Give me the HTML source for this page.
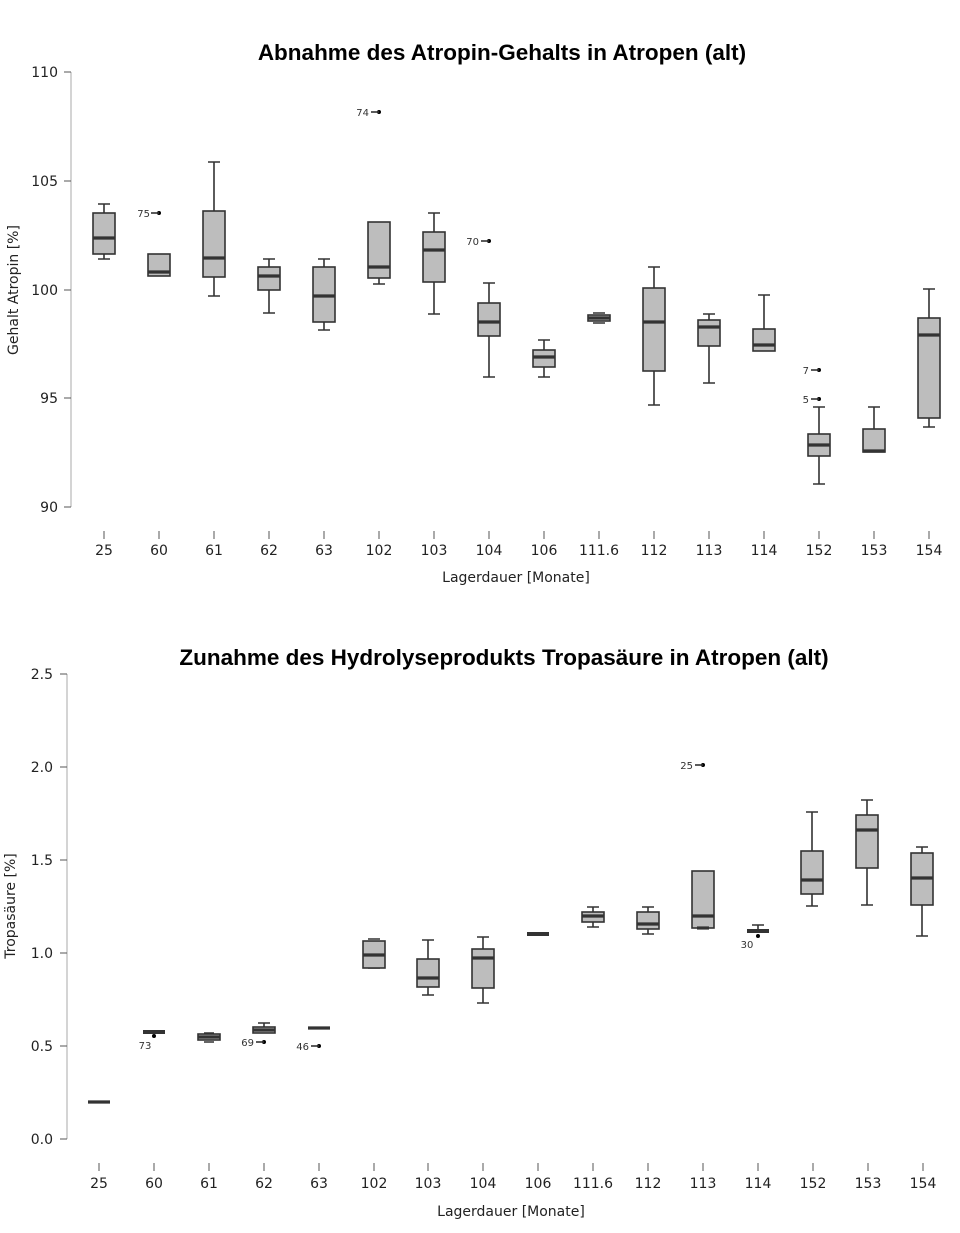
<!DOCTYPE html>
<html><head><meta charset="utf-8"><style>
body{margin:0;background:#fff}
svg{display:block}
text{font-family:"DejaVu Sans","Liberation Sans",sans-serif;fill:#222}
.t{font-family:"Liberation Sans",sans-serif;font-weight:bold;font-size:22.5px;fill:#000}
.b{fill:#bdbdbd;stroke:#333;stroke-width:1.6}
.w{stroke:#333;stroke-width:1.6;fill:none}
.m{stroke:#333;stroke-width:3.2}
.ax{stroke:#aaa;stroke-width:1}
.tk{stroke:#555;stroke-width:1}
.lab{font-size:14px}
.o{font-size:10px;fill:#333}
</style></head><body>
<svg width="960" height="1233" viewBox="0 0 960 1233">
<text class="t" x="502" y="60" text-anchor="middle">Abnahme des Atropin-Gehalts in Atropen (alt)</text>
<line class="ax" x1="71" y1="72" x2="71" y2="507"/>
<g class="tk"><line x1="64" y1="72" x2="71" y2="72"/><line x1="64" y1="181" x2="71" y2="181"/><line x1="64" y1="290" x2="71" y2="290"/><line x1="64" y1="398" x2="71" y2="398"/><line x1="64" y1="507" x2="71" y2="507"/></g>
<g class="lab" text-anchor="end"><text x="58" y="77">110</text><text x="58" y="186">105</text><text x="58" y="295">100</text><text x="58" y="403">95</text><text x="58" y="512">90</text></g>
<text class="lab" transform="translate(18,290) rotate(-90)" text-anchor="middle" font-size="13">Gehalt Atropin [%]</text>
<g class="tk"><line x1="104" y1="531" x2="104" y2="539"/><line x1="159" y1="531" x2="159" y2="539"/><line x1="214" y1="531" x2="214" y2="539"/><line x1="269" y1="531" x2="269" y2="539"/><line x1="324" y1="531" x2="324" y2="539"/><line x1="379" y1="531" x2="379" y2="539"/><line x1="434" y1="531" x2="434" y2="539"/><line x1="489" y1="531" x2="489" y2="539"/><line x1="544" y1="531" x2="544" y2="539"/><line x1="599" y1="531" x2="599" y2="539"/><line x1="654" y1="531" x2="654" y2="539"/><line x1="709" y1="531" x2="709" y2="539"/><line x1="764" y1="531" x2="764" y2="539"/><line x1="819" y1="531" x2="819" y2="539"/><line x1="874" y1="531" x2="874" y2="539"/><line x1="929" y1="531" x2="929" y2="539"/></g>
<g class="lab" text-anchor="middle"><text x="104" y="555">25</text><text x="159" y="555">60</text><text x="214" y="555">61</text><text x="269" y="555">62</text><text x="324" y="555">63</text><text x="379" y="555">102</text><text x="434" y="555">103</text><text x="489" y="555">104</text><text x="544" y="555">106</text><text x="599" y="555">111.6</text><text x="654" y="555">112</text><text x="709" y="555">113</text><text x="764" y="555">114</text><text x="819" y="555">152</text><text x="874" y="555">153</text><text x="929" y="555">154</text></g>
<text class="lab" x="516" y="582" text-anchor="middle">Lagerdauer [Monate]</text>
<g>
<path class="w" d="M104 204V213M104 254V259M98 204H110M98 259H110"/><rect class="b" x="93" y="213" width="22" height="41"/><line class="m" x1="93" y1="238" x2="115" y2="238"/>
<rect class="b" x="148" y="254" width="22" height="22"/><line class="m" x1="148" y1="272" x2="170" y2="272"/><circle cx="159" cy="213" r="2"/><line class="w" x1="151" y1="213" x2="159" y2="213"/><text class="o" x="150" y="217" text-anchor="end">75</text>
<path class="w" d="M214 162V211M214 277V296M208 162H220M208 296H220"/><rect class="b" x="203" y="211" width="22" height="66"/><line class="m" x1="203" y1="258" x2="225" y2="258"/>
<path class="w" d="M269 259V267M269 290V313M263 259H275M263 313H275"/><rect class="b" x="258" y="267" width="22" height="23"/><line class="m" x1="258" y1="276" x2="280" y2="276"/>
<path class="w" d="M324 259V267M324 322V330M318 259H330M318 330H330"/><rect class="b" x="313" y="267" width="22" height="55"/><line class="m" x1="313" y1="296" x2="335" y2="296"/>
<path class="w" d="M379 278V284M373 284H385"/><rect class="b" x="368" y="222" width="22" height="56"/><line class="m" x1="368" y1="267" x2="390" y2="267"/><circle cx="379" cy="112" r="2"/><line class="w" x1="371" y1="112" x2="379" y2="112"/><text class="o" x="369" y="116" text-anchor="end">74</text>
<path class="w" d="M434 213V232M434 282V314M428 213H440M428 314H440"/><rect class="b" x="423" y="232" width="22" height="50"/><line class="m" x1="423" y1="250" x2="445" y2="250"/>
<path class="w" d="M489 283V303M489 336V377M483 283H495M483 377H495"/><rect class="b" x="478" y="303" width="22" height="33"/><line class="m" x1="478" y1="322" x2="500" y2="322"/><circle cx="489" cy="241" r="2"/><line class="w" x1="481" y1="241" x2="489" y2="241"/><text class="o" x="479" y="245" text-anchor="end">70</text>
<path class="w" d="M544 340V350M544 367V377M538 340H550M538 377H550"/><rect class="b" x="533" y="350" width="22" height="17"/><line class="m" x1="533" y1="357" x2="555" y2="357"/>
<path class="w" d="M593 313H605M593 323H605"/><rect class="b" x="588" y="315" width="22" height="6"/><line class="m" x1="588" y1="318" x2="610" y2="318"/>
<path class="w" d="M654 267V288M654 371V405M648 267H660M648 405H660"/><rect class="b" x="643" y="288" width="22" height="83"/><line class="m" x1="643" y1="322" x2="665" y2="322"/>
<path class="w" d="M709 314V320M709 346V383M703 314H715M703 383H715"/><rect class="b" x="698" y="320" width="22" height="26"/><line class="m" x1="698" y1="327" x2="720" y2="327"/>
<path class="w" d="M764 295V329M758 295H770"/><rect class="b" x="753" y="329" width="22" height="22"/><line class="m" x1="753" y1="345" x2="775" y2="345"/>
<path class="w" d="M819 407V434M819 456V484M813 407H825M813 484H825"/><rect class="b" x="808" y="434" width="22" height="22"/><line class="m" x1="808" y1="445" x2="830" y2="445"/><circle cx="819" cy="370" r="2"/><line class="w" x1="811" y1="370" x2="819" y2="370"/><text class="o" x="809" y="374" text-anchor="end">7</text><circle cx="819" cy="399" r="2"/><line class="w" x1="811" y1="399" x2="819" y2="399"/><text class="o" x="809" y="403" text-anchor="end">5</text>
<path class="w" d="M874 407V429M868 407H880"/><rect class="b" x="863" y="429" width="22" height="23"/><line class="m" x1="863" y1="451" x2="885" y2="451"/>
<path class="w" d="M929 289V318M929 418V427M923 289H935M923 427H935"/><rect class="b" x="918" y="318" width="22" height="100"/><line class="m" x1="918" y1="335" x2="940" y2="335"/>
</g>

<text class="t" x="504" y="665" text-anchor="middle">Zunahme des Hydrolyseprodukts Tropasäure in Atropen (alt)</text>
<line class="ax" x1="67" y1="674" x2="67" y2="1139"/>
<g class="tk"><line x1="60" y1="674" x2="67" y2="674"/><line x1="60" y1="767" x2="67" y2="767"/><line x1="60" y1="860" x2="67" y2="860"/><line x1="60" y1="953" x2="67" y2="953"/><line x1="60" y1="1046" x2="67" y2="1046"/><line x1="60" y1="1139" x2="67" y2="1139"/></g>
<g class="lab" text-anchor="end"><text x="53" y="679">2.5</text><text x="53" y="772">2.0</text><text x="53" y="865">1.5</text><text x="53" y="958">1.0</text><text x="53" y="1051">0.5</text><text x="53" y="1144">0.0</text></g>
<text class="lab" transform="translate(15,906) rotate(-90)" text-anchor="middle" font-size="13">Tropasäure [%]</text>
<g class="tk"><line x1="99" y1="1163" x2="99" y2="1171"/><line x1="154" y1="1163" x2="154" y2="1171"/><line x1="209" y1="1163" x2="209" y2="1171"/><line x1="264" y1="1163" x2="264" y2="1171"/><line x1="319" y1="1163" x2="319" y2="1171"/><line x1="374" y1="1163" x2="374" y2="1171"/><line x1="428" y1="1163" x2="428" y2="1171"/><line x1="483" y1="1163" x2="483" y2="1171"/><line x1="538" y1="1163" x2="538" y2="1171"/><line x1="593" y1="1163" x2="593" y2="1171"/><line x1="648" y1="1163" x2="648" y2="1171"/><line x1="703" y1="1163" x2="703" y2="1171"/><line x1="758" y1="1163" x2="758" y2="1171"/><line x1="813" y1="1163" x2="813" y2="1171"/><line x1="868" y1="1163" x2="868" y2="1171"/><line x1="923" y1="1163" x2="923" y2="1171"/></g>
<g class="lab" text-anchor="middle"><text x="99" y="1188">25</text><text x="154" y="1188">60</text><text x="209" y="1188">61</text><text x="264" y="1188">62</text><text x="319" y="1188">63</text><text x="374" y="1188">102</text><text x="428" y="1188">103</text><text x="483" y="1188">104</text><text x="538" y="1188">106</text><text x="593" y="1188">111.6</text><text x="648" y="1188">112</text><text x="703" y="1188">113</text><text x="758" y="1188">114</text><text x="813" y="1188">152</text><text x="868" y="1188">153</text><text x="923" y="1188">154</text></g>
<text class="lab" x="511" y="1216" text-anchor="middle">Lagerdauer [Monate]</text>
<g>
<line class="m" x1="88" y1="1102" x2="110" y2="1102"/>
<rect x="143" y="1030" width="22" height="4" fill="#333"/><circle cx="154" cy="1036" r="2"/><text class="o" x="145" y="1049" text-anchor="middle">73</text>
<path class="w" d="M204 1033H214M204 1042H214"/><rect class="b" x="198" y="1034" width="22" height="6"/><line class="m" x1="198" y1="1037" x2="220" y2="1037"/>
<path class="w" d="M264 1023V1027M258 1023H270"/><rect class="b" x="253" y="1027" width="22" height="6"/><line class="m" x1="253" y1="1030" x2="275" y2="1030"/><circle cx="264" cy="1042" r="2"/><line class="w" x1="256" y1="1042" x2="264" y2="1042"/><text class="o" x="254" y="1046" text-anchor="end">69</text>
<line class="m" x1="308" y1="1028" x2="330" y2="1028"/><circle cx="319" cy="1046" r="2"/><line class="w" x1="311" y1="1046" x2="319" y2="1046"/><text class="o" x="309" y="1050" text-anchor="end">46</text>
<path class="w" d="M368 939H380M368 968H380"/><rect class="b" x="363" y="941" width="22" height="27"/><line class="m" x1="363" y1="955" x2="385" y2="955"/>
<path class="w" d="M428 940V959M428 987V995M422 940H434M422 995H434"/><rect class="b" x="417" y="959" width="22" height="28"/><line class="m" x1="417" y1="978" x2="439" y2="978"/>
<path class="w" d="M483 937V949M483 988V1003M477 937H489M477 1003H489"/><rect class="b" x="472" y="949" width="22" height="39"/><line class="m" x1="472" y1="958" x2="494" y2="958"/>
<rect x="527" y="932" width="22" height="4" fill="#333"/>
<path class="w" d="M593 907V912M593 922V927M587 907H599M587 927H599"/><rect class="b" x="582" y="912" width="22" height="10"/><line class="m" x1="582" y1="916" x2="604" y2="916"/>
<path class="w" d="M648 907V912M648 929V934M642 907H654M642 934H654"/><rect class="b" x="637" y="912" width="22" height="17"/><line class="m" x1="637" y1="924" x2="659" y2="924"/>
<rect class="b" x="692" y="871" width="22" height="57"/><line class="m" x1="692" y1="916" x2="714" y2="916"/><line class="m" x1="697" y1="928" x2="709" y2="928"/><circle cx="703" cy="765" r="2"/><line class="w" x1="695" y1="765" x2="703" y2="765"/><text class="o" x="693" y="769" text-anchor="end">25</text>
<path class="w" d="M758 925V929M752 925H764"/><rect x="747" y="929" width="22" height="4" fill="#333"/><circle cx="758" cy="936" r="2"/><text class="o" x="747" y="948" text-anchor="middle">30</text>
<path class="w" d="M812 812V851M812 894V906M806 812H818M806 906H818"/><rect class="b" x="801" y="851" width="22" height="43"/><line class="m" x1="801" y1="880" x2="823" y2="880"/>
<path class="w" d="M867 800V815M867 868V905M861 800H873M861 905H873"/><rect class="b" x="856" y="815" width="22" height="53"/><line class="m" x1="856" y1="830" x2="878" y2="830"/>
<path class="w" d="M922 847V853M922 905V936M916 847H928M916 936H928"/><rect class="b" x="911" y="853" width="22" height="52"/><line class="m" x1="911" y1="878" x2="933" y2="878"/>
</g>
</svg>
</body></html>
